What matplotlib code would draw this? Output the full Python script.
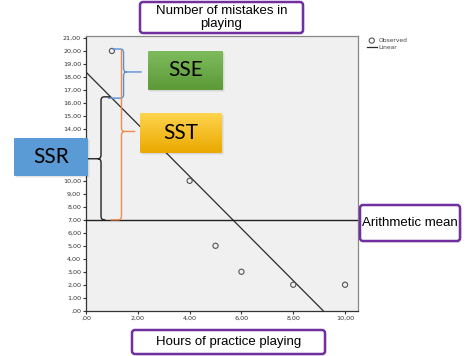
import numpy as np
import matplotlib
matplotlib.use('Agg')
import matplotlib.pyplot as plt
from matplotlib.patches import FancyBboxPatch, PathPatch
from matplotlib.path import Path

# data
hours = [1, 4, 5, 6, 8, 10]
mistakes = [20, 10, 5, 3, 2, 2]
x_ticks = [0, 2, 4, 6, 8, 10]
y_ticks = list(range(0, 22))

x = np.array(hours, dtype=float)
y = np.array(mistakes, dtype=float)
slope, intercept = np.polyfit(x, y, 1)
y_mean = y.mean()


def spss_fmt(v):
    s = '%.2f' % v
    s = s.replace('.', ',')
    if s.startswith('0'):
        s = s[1:]
    return s


W, H = 471, 356
fig = plt.figure(figsize=(W / 100, H / 100), dpi=100)
fig.patch.set_facecolor('white')

# main axes (pixel box 86..358 x 36..311)
ax = fig.add_axes([86 / W, (H - 311) / H, (358 - 86) / W, (311 - 36) / H])
ax.set_facecolor('#f0f0f0')
ax.set_xlim(0, 10.5)
ax.set_ylim(-0.02, 21.15)

xx = np.linspace(0, 10.5, 50)
line, = ax.plot(xx, intercept + slope * xx, color='#2b2b2b', lw=0.9, zorder=3, label='Linear')
pts = ax.scatter(x, y, s=14, facecolors='none', edgecolors='#555555', linewidths=0.8,
                 zorder=4, label='Observed')
ax.axhline(y_mean, color='#222222', lw=1.0, zorder=3)

ax.set_xticks(x_ticks)
ax.set_xticklabels([spss_fmt(v) for v in x_ticks])
ax.set_yticks(y_ticks)
ax.set_yticklabels([spss_fmt(v) for v in y_ticks])
ax.tick_params(length=2.5, width=0.8, color='#333333', labelsize=4.6, labelcolor='#333333', pad=1)
# labels 11..13 sit behind the SSR callout in the original
for lab, v in zip(ax.get_yticklabels(), y_ticks):
    if 11 <= v <= 13:
        lab.set_visible(False)
for side in ['left', 'bottom']:
    ax.spines[side].set_color('#333333')
    ax.spines[side].set_linewidth(0.9)
for side in ['top', 'right']:
    ax.spines[side].set_color('#888888')
    ax.spines[side].set_linewidth(0.9)

leg = fig.legend(handles=[pts, line], loc='upper left', bbox_to_anchor=(364 / W, 1 - 35 / H),
                 frameon=False, fontsize=4.3, handlelength=1.6, handletextpad=0.3,
                 borderpad=0, labelspacing=0.35)
for t in leg.get_texts():
    t.set_color('#444444')


def brace(xv, y_top, y_bot, xe_top, xe_bot, x_tip, y_tip, color, lw=1.0):
    rx, ry = 0.12, 0.3
    d_top = np.sign(xv - xe_top)
    d_bot = np.sign(xv - xe_bot)
    dt = np.sign(x_tip - xv)
    verts = [(xe_top, y_top), (xv - d_top * rx, y_top), (xv, y_top), (xv, y_top - ry),
             (xv, y_tip + ry), (xv, y_tip), (xv + dt * rx, y_tip), (x_tip, y_tip),
             (xv + dt * rx, y_tip), (xv, y_tip), (xv, y_tip - ry),
             (xv, y_bot + ry), (xv, y_bot), (xv - d_bot * rx, y_bot), (xe_bot, y_bot)]
    codes = [Path.MOVETO, Path.LINETO, Path.CURVE3, Path.CURVE3,
             Path.LINETO, Path.CURVE3, Path.CURVE3, Path.LINETO,
             Path.MOVETO, Path.CURVE3, Path.CURVE3,
             Path.LINETO, Path.CURVE3, Path.CURVE3, Path.LINETO]
    ax.add_patch(PathPatch(Path(verts, codes), fill=False, edgecolor=color, lw=lw,
                           clip_on=False, zorder=5))


fit_at_1 = intercept + slope * x[0]
# SSE: observed vs fitted
brace(1.45, y[0] + 0.15, fit_at_1, 1.0, 0.85, 2.15, (y[0] + fit_at_1) / 2 + 0.2, '#5a8fd6')
# SST: observed vs mean
brace(1.37, y[0] + 0.1, y_mean, 1.37, 0.95, 1.9, 13.8, '#f08a4b')
# SSR: fitted vs mean
brace(0.58, fit_at_1 + 0.1, y_mean, 0.93, 0.75, 0.08, 11.7, '#222222')

# overlay in pixel units for the callout boxes
ov = fig.add_axes([0, 0, 1, 1], zorder=10)
ov.set_xlim(0, W)
ov.set_ylim(H, 0)
ov.axis('off')
ov.patch.set_alpha(0)


def box(x0, y0, x1, y1, text, fc='white', ec=None, grad=None, size=9.5, family='Liberation Sans',
        rad=3, lw=1.8):
    shadow = FancyBboxPatch((x0 + 1.5, y0 + 1.5), x1 - x0, y1 - y0,
                            boxstyle='round,pad=0,rounding_size=%g' % rad,
                            fc=(0, 0, 0, 0.1), ec='none')
    ov.add_patch(shadow)
    p = FancyBboxPatch((x0, y0), x1 - x0, y1 - y0,
                       boxstyle='round,pad=0,rounding_size=%g' % rad,
                       fc=fc, ec=ec if ec else 'none', lw=lw if ec else 0)
    ov.add_patch(p)
    if grad is not None:
        g = np.linspace(0, 1, 64)[:, None]
        c0 = np.array(matplotlib.colors.to_rgb(grad[0]))
        c1 = np.array(matplotlib.colors.to_rgb(grad[1]))
        img = c0[None, None, :] * (1 - g[:, :, None]) + c1[None, None, :] * g[:, :, None]
        im = ov.imshow(img, extent=(x0, x1, y1, y0), aspect='auto', zorder=p.get_zorder())
        im.set_clip_path(p)
        ov.set_xlim(0, W)
        ov.set_ylim(H, 0)
    ov.text((x0 + x1) / 2, (y0 + y1) / 2, text, ha='center', va='center', fontsize=size,
            family=family, color='black', zorder=12, linespacing=1.0)


purple = '#7030a0'
box(140, 2, 303, 33, 'Number of mistakes in\nplaying', ec=purple)
box(132, 330, 325, 354, 'Hours of practice playing', ec=purple)
box(360, 205, 460, 241, 'Arithmetic mean', ec=purple)
box(148, 51, 223, 90, 'SSE', grad=('#7dbb5c', '#5c9a38'), size=15, family='Lato', rad=1, lw=0)
box(140, 113, 222, 153, 'SST', grad=('#ffd44d', '#eaa800'), size=15, family='Lato', rad=1, lw=0)
box(14, 138, 88, 176, 'SSR', fc='#5b9bd5', size=15, family='Lato', rad=1, lw=0)

fig.savefig('out.png', dpi=100)
